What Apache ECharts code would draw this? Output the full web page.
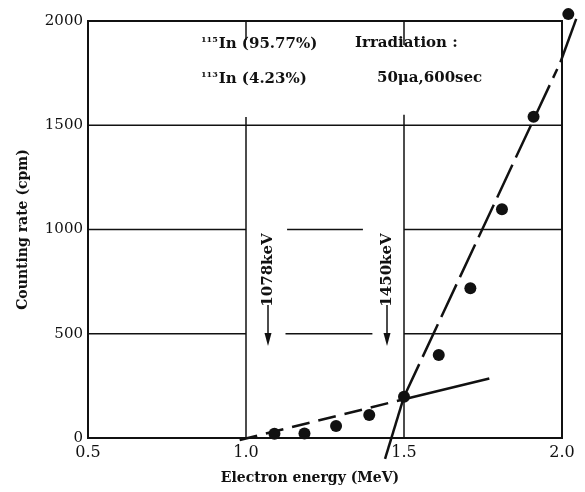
<!DOCTYPE html>
<html><head><meta charset="utf-8">
<script src="https://cdn.jsdelivr.net/npm/echarts@6/dist/echarts.min.js"></script>
<style>html,body{margin:0;padding:0;background:#fff}#c{width:585px;height:492px}</style>
</head><body><div id="c"></div>
<script>
// measured points
const energy = [1.09, 1.185, 1.285, 1.39, 1.50, 1.61, 1.71, 1.81, 1.91, 2.02];
const counts = [20, 22, 57, 110, 198, 398, 718, 1097, 1541, 2033];
const xTicks = [0.5, 1.0, 1.5, 2.0];
const yTicks = [0, 500, 1000, 1500, 2000];
// fitted lines (data coordinates)
const lowFitDashed = [[0.98, -10], [1.50, 186]];
const lowFitSolid = [[1.50, 186], [1.77, 285]];
const highFitSolid = [[1.44, -100], [1.50, 198]];
const highFitDashed = [[1.50, 198], [1.985, 1770]];
const highFitTop = [[1.995, 1802], [2.045, 2010]];
// broken grid lines: [y, xFrom, xTo] and [x, yFrom, yTo]
const hGrid = [[500, 0.5, 1.0], [500, 1.125, 1.40], [500, 1.5, 2.0],
               [1000, 0.5, 1.0], [1000, 1.13, 1.37], [1000, 1.5, 2.0],
               [1500, 0.5, 2.0]];
const vGrid = [[1.0, 0, 1540], [1.0, 1909, 2000], [1.5, 0, 1550], [1.5, 1885, 2000]];

const INK = '#111';
const FONT = 'DejaVu Serif';
const chart = echarts.init(document.getElementById('c'), null, {renderer: 'canvas'});

const series = [];
hGrid.forEach(g => series.push({type: 'line', data: [[g[1], g[0]], [g[2], g[0]]], symbol: 'none', silent: true,
  lineStyle: {color: INK, width: 1.5}, z: 1}));
vGrid.forEach(g => series.push({type: 'line', data: [[g[0], g[1]], [g[0], g[2]]], symbol: 'none', silent: true,
  lineStyle: {color: INK, width: 1.5}, z: 1}));
function fit(d, dash) {
  return {type: 'line', data: d, symbol: 'none', clip: false, silent: true,
    lineStyle: {color: INK, width: 2.5, type: dash || 'solid', cap: 'butt'}, z: 3};
}
series.push(fit(lowFitDashed, [18, 9]));
series.push(fit(lowFitSolid));
series.push(fit(highFitSolid));
series.push(fit(highFitDashed, [36, 8]));
series.push({type: 'scatter', data: energy.map((e, i) => [e, counts[i]]), symbolSize: 12, clip: false,
  itemStyle: {color: INK, opacity: 1}, z: 5});

const rich = {
  sup: {fontSize: 8, fontFamily: FONT, fontWeight: 'bold', verticalAlign: 'top', fill: INK, padding: [0, 1, 8, 0]},
  b: {fontSize: 15, fontFamily: FONT, fontWeight: 'bold', fill: INK}
};
const F = 'bold 15px "' + FONT + '"';

const graphics = [
  {type: 'text', left: 201, top: 36, z: 10, style: {text: '{sup|115}{b|In (95.77%)}', rich: rich}},
  {type: 'text', left: 201, top: 71, z: 10, style: {text: '{sup|113}{b|In (4.23%)}', rich: rich}},
  {type: 'text', left: 355, top: 36, z: 10, style: {text: 'Irradiation :', font: F, fill: INK}},
  {type: 'text', left: 377, top: 71, z: 10, style: {text: '50\u03bca,600sec', font: F, fill: INK}},
  {type: 'text', x: 268, y: 270, rotation: Math.PI / 2, z: 10,
    style: {text: '1078keV', font: F, fill: INK, align: 'center', verticalAlign: 'middle'}},
  {type: 'text', x: 387, y: 270, rotation: Math.PI / 2, z: 10,
    style: {text: '1450keV', font: F, fill: INK, align: 'center', verticalAlign: 'middle'}},
  {type: 'line', z: 10, shape: {x1: 268, y1: 305, x2: 268, y2: 338}, style: {stroke: INK, lineWidth: 1.5}},
  {type: 'polygon', z: 10, shape: {points: [[264.5, 333], [271.5, 333], [268, 346]]}, style: {fill: INK}},
  {type: 'line', z: 10, shape: {x1: 387, y1: 305, x2: 387, y2: 338}, style: {stroke: INK, lineWidth: 1.5}},
  {type: 'polygon', z: 10, shape: {points: [[383.5, 333], [390.5, 333], [387, 346]]}, style: {fill: INK}}
];

chart.setOption({
  animation: false,
  backgroundColor: '#fff',
  grid: {left: 88, right: 23, top: 21, bottom: 54, show: true, borderColor: INK, borderWidth: 2},
  xAxis: {type: 'value', min: xTicks[0], max: xTicks[xTicks.length - 1], interval: 0.5,
    name: 'Electron energy (MeV)', nameLocation: 'middle', nameGap: 33,
    nameTextStyle: {fontFamily: FONT, fontWeight: 'bold', fontSize: 14, color: INK, padding: [0, 30, 0, 0]},
    axisLine: {show: false}, axisTick: {show: false}, splitLine: {show: false},
    axisLabel: {fontFamily: FONT, fontSize: 16, color: INK, margin: 7, formatter: v => v.toFixed(1)}},
  yAxis: {type: 'value', min: yTicks[0], max: yTicks[yTicks.length - 1], interval: 500,
    name: 'Counting rate (cpm)', nameLocation: 'middle', nameGap: 58, nameRotate: 90,
    nameTextStyle: {fontFamily: FONT, fontWeight: 'bold', fontSize: 14, color: INK},
    axisLine: {show: false}, axisTick: {show: false}, splitLine: {show: false},
    axisLabel: {fontFamily: FONT, fontSize: 15, color: INK, margin: 5, formatter: v => String(v)}},
  series: series,
  graphic: graphics
});

// top piece of the steep fit runs past the frame: draw it through the chart's own scale
const p0 = chart.convertToPixel({gridIndex: 0}, highFitTop[0]);
const p1 = chart.convertToPixel({gridIndex: 0}, highFitTop[1]);
graphics.push({type: 'line', z: 4, shape: {x1: p0[0], y1: p0[1], x2: p1[0], y2: p1[1]},
  style: {stroke: INK, lineWidth: 2.5}});
chart.setOption({graphic: graphics}, {replaceMerge: ['graphic']});
</script></body></html>
